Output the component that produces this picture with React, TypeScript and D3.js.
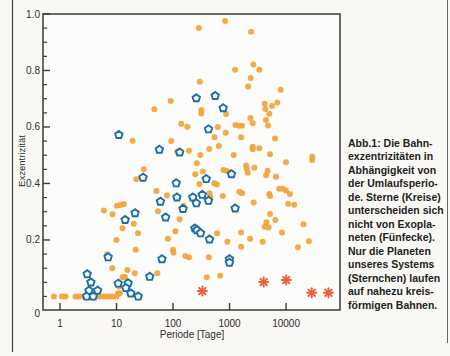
import React from "react";
import * as d3 from "d3";

// Binary stars (orange circles): period [days], eccentricity
const starP = [286, 836, 2404, 2640, 3370, 1256, 2366, 2128, 298, 8000, 46.8, 90.7, 316, 316, 871, 4180, 4300, 5640, 7000, 5060, 2337, 2566, 4420, 4790, 1270, 1453, 1667, 140, 179, 619, 857, 542, 1603, 6370, 93.3, 645, 437, 191, 119, 2566, 2566, 3370, 303, 1186, 5200, 9960, 29000, 29000, 264, 1963, 2011, 2750, 4720, 4420, 6640, 780, 893, 996, 2094, 247, 337, 30.3, 19.2, 22.4, 50.8, 78, 294, 535, 595, 442, 455, 1496, 1667, 759, 5060, 5200, 7590, 8670, 9960, 11700, 2672, 10900, 13950, 54.2, 131, 154, 5200, 4480, 4180, 4910, 6450, 20400, 604, 1603, 8470, 110, 81.3, 2308, 918, 3850, 25300, 1603, 16200, 99.6, 102, 165, 191, 430, 52.8, 396, 682, 5.97, 8.5, 10.2, 11.8, 13.5, 12.8, 20.2, 24.0, 10, 21.9, 6.8, 8.4, 15.6, 14.0, 12.8, 21.0, 11.0, 0.78, 1.08, 1.25, 1.88, 2.16, 2.65, 3.12, 3.67, 4.31, 5.07, 5.97, 6.75, 7.62, 8.61, 10.0, 10.6, 11.4];
const starE = [0.95, 0.975, 0.937, 0.821, 0.803, 0.803, 0.773, 0.743, 0.76, 0.732, 0.663, 0.692, 0.66, 0.648, 0.646, 0.682, 0.664, 0.674, 0.687, 0.647, 0.632, 0.613, 0.625, 0.605, 0.607, 0.604, 0.604, 0.611, 0.601, 0.6, 0.58, 0.564, 0.564, 0.559, 0.55, 0.533, 0.522, 0.516, 0.512, 0.53, 0.521, 0.525, 0.501, 0.501, 0.503, 0.475, 0.495, 0.483, 0.472, 0.464, 0.452, 0.456, 0.445, 0.429, 0.424, 0.448, 0.444, 0.44, 0.438, 0.433, 0.442, 0.45, 0.551, 0.415, 0.373, 0.357, 0.398, 0.401, 0.396, 0.365, 0.353, 0.371, 0.365, 0.356, 0.363, 0.356, 0.381, 0.381, 0.375, 0.363, 0.333, 0.328, 0.325, 0.302, 0.273, 0.321, 0.292, 0.263, 0.247, 0.244, 0.271, 0.256, 0.224, 0.226, 0.226, 0.231, 0.204, 0.204, 0.194, 0.194, 0.195, 0.176, 0.174, 0.165, 0.155, 0.143, 0.139, 0.139, 0.082, 0.068, 0.073, 0.304, 0.291, 0.321, 0.324, 0.327, 0.241, 0.257, 0.224, 0.2, 0.165, 0.149, 0.1, 0.094, 0.07, 0.068, 0.082, 0.035, 0, 0, 0, 0, 0, 0, 0, 0, 0, 0, 0, 0, 0, 0, 0, 0.01, 0.011];

// Exoplanets (blue pentagons)
const planetP = [11.0, 29.4, 258, 557, 771, 424, 57.3, 131, 1081, 387, 114, 59.7, 117, 224, 258, 329, 424, 150, 74, 1256, 243, 264, 307, 442, 63.7, 996, 996, 38.7, 24.2, 14.2, 21.3, 7.1, 3.03, 3.52, 10.7, 16.0, 14.6, 17.9, 3.25, 4.62, 2.96, 3.87];
const planetE = [0.572, 0.421, 0.702, 0.71, 0.667, 0.592, 0.52, 0.51, 0.433, 0.416, 0.401, 0.336, 0.351, 0.351, 0.33, 0.36, 0.339, 0.31, 0.28, 0.312, 0.241, 0.235, 0.224, 0.202, 0.132, 0.132, 0.12, 0.07, 0, 0.271, 0.295, 0.139, 0.079, 0.05, 0.046, 0.047, 0.03, 0.011, 0.021, 0.021, 0, 0];

// Solar system planets (asterisks)
const solarP = [330, 4010, 10080, 28400, 56200];
const solarE = [0.019, 0.051, 0.058, 0.013, 0.013];

const yTickValues = [0.2, 0.4, 0.6, 0.8, 1.0];
const yTickLabels = ["0.2", "0.4", "0.6", "0.8", "1.0"];
const xTickValues = [1, 10, 100, 1000, 10000];
const xTickLabels = ["1", "10", "100", "1000", "10000"];

const captionLines = [
  "Abb.1: Die Bahn-",
  "exzentrizitäten in",
  "Abhängigkeit von",
  "der Umlaufsperio-",
  "de. Sterne (Kreise)",
  "unterscheiden sich",
  "nicht von Exopla-",
  "neten (Fünfecke).",
  "Nur die Planeten",
  "unseres Systems",
  "(Sternchen) laufen",
  "auf nahezu kreis-",
  "förmigen Bahnen.",
];

const W = 450;
const H = 356;
const left = 43, right = 340, top = 14, bottom = 310;

export default function App() {
  const x = d3.scaleLog().domain([0.5, 90000]).range([left, right]);
  const y = d3.scaleLinear().domain([-0.048, 1]).range([bottom, top]);

  const minorY = d3.range(0, 1.0001, 0.05).filter(
    (v) => !yTickValues.some((t) => Math.abs(t - v) < 1e-6)
  );

  const pentR = 3.9;
  const pentagon =
    d3.line()(
      d3.range(5).map((i) => {
        const a = -Math.PI / 2 + (i * 2 * Math.PI) / 5;
        return [pentR * Math.cos(a), pentR * Math.sin(a)] as [number, number];
      })
    ) + "Z";

  const font = "'Liberation Sans', Arial, sans-serif";

  return (
    <svg
      width={W}
      height={H}
      style={{ position: "absolute", left: 0, top: 0, background: "#f9f8f5" }}
    >
      <rect x={0} y={0} width={W} height={H} fill="#f9f8f5" />
      {/* outer figure borders */}
      <line x1={12.5} y1={0} x2={12.5} y2={352} stroke="#444" strokeWidth={1.2} />
      <line x1={447.5} y1={0} x2={447.5} y2={343} stroke="#666" strokeWidth={1} />

      {/* plot frame */}
      <rect x={left} y={top} width={right - left} height={bottom - top} fill="#fcfcfa" stroke="#3a3a3a" strokeWidth={1.5} />

      {/* y ticks */}
      {yTickValues.map((v, i) => (
        <g key={"yt" + i}>
          <line x1={left} x2={left + 7} y1={y(v)} y2={y(v)} stroke="#3a3a3a" strokeWidth={1.4} />
          <text x={40} y={y(v)} dy="0.35em" textAnchor="end" fontSize={10} fill="#2e2e2e" fontFamily={font}>
            {yTickLabels[i]}
          </text>
        </g>
      ))}
      {minorY.map((v, i) => (
        <line key={"ym" + i} x1={left} x2={left + 4} y1={y(v)} y2={y(v)} stroke="#3a3a3a" strokeWidth={1.2} />
      ))}
      <text x={40} y={y(-0.048) + 3} dy="0.35em" textAnchor="end" fontSize={10} fill="#2e2e2e" fontFamily={font}>
        0
      </text>

      {/* x ticks */}
      {xTickValues.map((v, i) => (
        <g key={"xt" + i}>
          <line x1={x(v)} x2={x(v)} y1={bottom} y2={bottom - 7} stroke="#3a3a3a" strokeWidth={1.4} />
          <text x={x(v)} y={323} dy="0.35em" textAnchor="middle" fontSize={10} fill="#2e2e2e" fontFamily={font}>
            {xTickLabels[i]}
          </text>
        </g>
      ))}

      <text x={192} y={334} dy="0.35em" textAnchor="middle" fontSize={10} fill="#2e2e2e" fontFamily={font}>
        Periode [Tage]
      </text>
      <text
        transform="translate(22,161) rotate(-90)"
        dy="0.35em"
        textAnchor="middle"
        fontSize={9.5}
        fill="#2e2e2e"
        fontFamily={font}
      >
        Exzentrizität
      </text>

      {/* binary stars */}
      {starP.map((p, i) => (
        <circle key={"s" + i} cx={x(p)} cy={y(starE[i])} r={3} fill="#f2a338" fillOpacity={0.92} />
      ))}

      {/* exoplanets */}
      {planetP.map((p, i) => (
        <path
          key={"p" + i}
          d={pentagon}
          transform={`translate(${x(p)},${y(planetE[i])})`}
          fill="#fcfcfa"
          stroke="#1c6ea4"
          strokeWidth={1.9}
        />
      ))}

      {/* solar system planets */}
      {solarP.map((p, i) => (
        <g key={"sol" + i} transform={`translate(${x(p)},${y(solarE[i])})`}>
          {[0, 45, 90, 135].map((a) => (
            <line key={a} x1={-4.5} x2={4.5} y1={0} y2={0} transform={`rotate(${a})`} stroke="#e8623a" strokeWidth={2} strokeLinecap="round" />
          ))}
          <circle r={2} fill="#e8623a" />
        </g>
      ))}

      {/* caption */}
      <text fontSize={10.5} fontWeight="bold" fill="#222" fontFamily={font}>
        {captionLines.map((l, i) => (
          <tspan key={i} x={348} y={146.5 + i * 13.5}>
            {l}
          </tspan>
        ))}
      </text>
    </svg>
  );
}
